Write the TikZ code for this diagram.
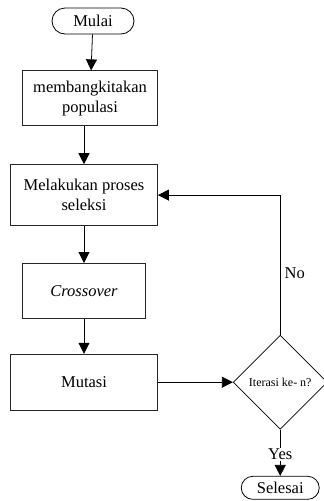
\documentclass[tikz,border=0pt]{standalone}
\usepackage{fontspec}
\setmainfont{Liberation Serif}
\usetikzlibrary{positioning,arrows.meta,shapes.geometric}
\tikzset{
    proc/.style={
        rectangle,
        draw=black!85,
        line width=0.8pt,
        align=center,
        inner sep=2pt,
        font=\fontsize{16.5}{20}\selectfont
    },
    term/.style={
        rectangle,
        draw=black,
        line width=0.8pt,
        inner sep=1pt,
        font=\fontsize{16.5}{20}\selectfont
    },
    dec/.style={
        diamond,
        draw=black,
        line width=0.7pt,
        aspect=1,
        inner sep=0pt,
        minimum size=94pt,
        font=\fontsize{12}{14}\selectfont
    },
    lbl/.style={font=\fontsize{16.5}{20}\selectfont,inner sep=1pt},
    arr/.style={-{Triangle[length=11pt,width=11pt]},line width=0.8pt}
}
\begin{document}
\begin{tikzpicture}[node distance=36pt]
\useasboundingbox (0,0) rectangle (324pt,-501pt);
\node[term,rounded corners=13pt,minimum width=82pt,minimum height=26pt] (mulai) at (93pt,-21pt) {Mulai};
\node[proc,minimum width=135pt,minimum height=55pt,below=36pt of mulai,xshift=-3pt] (bangkit) {membangkitakan\\populasi};
\node[proc,minimum width=147pt,minimum height=61pt,below=38pt of bangkit,xshift=-6pt] (seleksi) {Melakukan proses\\seleksi};
\node[proc,minimum width=123pt,minimum height=55pt,below=37pt of seleksi] (cross) {\textit{Crossover}};
\node[proc,minimum width=147pt,minimum height=56pt,below=35pt of cross] (mutasi) {Mutasi};
\node[dec,right=75pt of mutasi] (iter) {Iterasi ke- n?};
\node[lbl,below=18pt of iter] (yes) {Yes};
\node[term,rounded corners=11.5pt,minimum width=78pt,minimum height=23pt,below=15pt of yes] (selesai) {Selesai};
\draw[arr] (mulai) -- (bangkit);
\draw[arr] (bangkit.south -| seleksi.north) -- (seleksi.north);
\draw[arr] (seleksi) -- (cross);
\draw[arr] (cross) -- (mutasi);
\draw[arr] (mutasi) -- (iter);
\draw[arr] (iter.north) |- node[lbl,right,pos=0.22,xshift=3pt] {No} (seleksi.east);
\draw[line width=0.8pt] (iter) -- (yes);
\draw[arr] (yes) -- (selesai);
\end{tikzpicture}
\end{document}
